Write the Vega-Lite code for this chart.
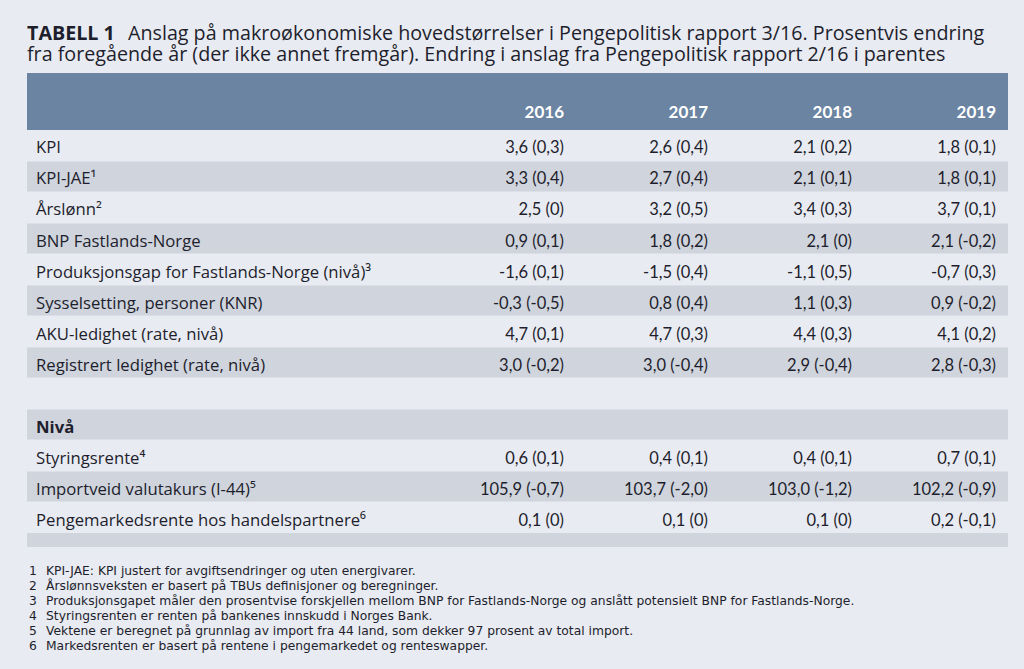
{
  "$schema": "https://vega.github.io/schema/vega-lite/v6.json",
  "width": 1024,
  "height": 669,
  "autosize": {"type": "fit", "contains": "padding"},
  "padding": 0,
  "background": "#E8EBF2",
  "config": {"view": {"stroke": null}, "text": {"font": "Lato", "color": "#1E1E2C"}},
  "datasets": {
    "rows": [
      {"row": 1, "label": "KPI"},
      {"row": 2, "label": "KPI-JAE¹"},
      {"row": 3, "label": "Årslønn²"},
      {"row": 4, "label": "BNP Fastlands-Norge"},
      {"row": 5, "label": "Produksjonsgap for Fastlands-Norge (nivå)³"},
      {"row": 6, "label": "Sysselsetting, personer (KNR)"},
      {"row": 7, "label": "AKU-ledighet (rate, nivå)"},
      {"row": 8, "label": "Registrert ledighet (rate, nivå)"},
      {"row": 10, "label": "Nivå"},
      {"row": 11, "label": "Styringsrente⁴"},
      {"row": 12, "label": "Importveid valutakurs (I-44)⁵"},
      {"row": 13, "label": "Pengemarkedsrente hos handelspartnere⁶"}
    ],
    "cells": [
      {"row": 1, "year": 2016, "value": "3,6 (0,3)"},
      {"row": 1, "year": 2017, "value": "2,6 (0,4)"},
      {"row": 1, "year": 2018, "value": "2,1 (0,2)"},
      {"row": 1, "year": 2019, "value": "1,8 (0,1)"},
      {"row": 2, "year": 2016, "value": "3,3 (0,4)"},
      {"row": 2, "year": 2017, "value": "2,7 (0,4)"},
      {"row": 2, "year": 2018, "value": "2,1 (0,1)"},
      {"row": 2, "year": 2019, "value": "1,8 (0,1)"},
      {"row": 3, "year": 2016, "value": "2,5 (0)"},
      {"row": 3, "year": 2017, "value": "3,2 (0,5)"},
      {"row": 3, "year": 2018, "value": "3,4 (0,3)"},
      {"row": 3, "year": 2019, "value": "3,7 (0,1)"},
      {"row": 4, "year": 2016, "value": "0,9 (0,1)"},
      {"row": 4, "year": 2017, "value": "1,8 (0,2)"},
      {"row": 4, "year": 2018, "value": "2,1 (0)"},
      {"row": 4, "year": 2019, "value": "2,1 (-0,2)"},
      {"row": 5, "year": 2016, "value": "-1,6 (0,1)"},
      {"row": 5, "year": 2017, "value": "-1,5 (0,4)"},
      {"row": 5, "year": 2018, "value": "-1,1 (0,5)"},
      {"row": 5, "year": 2019, "value": "-0,7 (0,3)"},
      {"row": 6, "year": 2016, "value": "-0,3 (-0,5)"},
      {"row": 6, "year": 2017, "value": "0,8 (0,4)"},
      {"row": 6, "year": 2018, "value": "1,1 (0,3)"},
      {"row": 6, "year": 2019, "value": "0,9 (-0,2)"},
      {"row": 7, "year": 2016, "value": "4,7 (0,1)"},
      {"row": 7, "year": 2017, "value": "4,7 (0,3)"},
      {"row": 7, "year": 2018, "value": "4,4 (0,3)"},
      {"row": 7, "year": 2019, "value": "4,1 (0,2)"},
      {"row": 8, "year": 2016, "value": "3,0 (-0,2)"},
      {"row": 8, "year": 2017, "value": "3,0 (-0,4)"},
      {"row": 8, "year": 2018, "value": "2,9 (-0,4)"},
      {"row": 8, "year": 2019, "value": "2,8 (-0,3)"},
      {"row": 11, "year": 2016, "value": "0,6 (0,1)"},
      {"row": 11, "year": 2017, "value": "0,4 (0,1)"},
      {"row": 11, "year": 2018, "value": "0,4 (0,1)"},
      {"row": 11, "year": 2019, "value": "0,7 (0,1)"},
      {"row": 12, "year": 2016, "value": "105,9 (-0,7)"},
      {"row": 12, "year": 2017, "value": "103,7 (-2,0)"},
      {"row": 12, "year": 2018, "value": "103,0 (-1,2)"},
      {"row": 12, "year": 2019, "value": "102,2 (-0,9)"},
      {"row": 13, "year": 2016, "value": "0,1 (0)"},
      {"row": 13, "year": 2017, "value": "0,1 (0)"},
      {"row": 13, "year": 2018, "value": "0,1 (0)"},
      {"row": 13, "year": 2019, "value": "0,2 (-0,1)"}
    ],
    "years": [{"year": 2016}, {"year": 2017}, {"year": 2018}, {"year": 2019}],
    "notes": [
      {"n": 1, "text": "KPI-JAE: KPI justert for avgiftsendringer og uten energivarer."},
      {"n": 2, "text": "Årslønnsveksten er basert på TBUs definisjoner og beregninger."},
      {"n": 3, "text": "Produksjonsgapet måler den prosentvise forskjellen mellom BNP for Fastlands-Norge og anslått potensielt BNP for Fastlands-Norge."},
      {"n": 4, "text": "Styringsrenten er renten på bankenes innskudd i Norges Bank."},
      {"n": 5, "text": "Vektene er beregnet på grunnlag av import fra 44 land, som dekker 97 prosent av total import."},
      {"n": 6, "text": "Markedsrenten er basert på rentene i pengemarkedet og renteswapper."}
    ]
  },
  "resolve": {"scale": {"x": "independent", "y": "independent"}},
  "layer": [
    {
      "data": {"values": [{"part": "header"}]},
      "mark": {"type": "rect", "color": "#6A84A2"},
      "encoding": {
        "x": {"datum": 2012.2708, "type": "quantitative", "scale": {"domain": [2012.0833, 2019.1944], "nice": false, "zero": false}, "axis": null},
        "x2": {"datum": 2019.0833},
        "y": {"datum": -1.339, "type": "quantitative", "scale": {"domain": [-3.6935, 17.887], "reverse": true, "nice": false, "zero": false}, "axis": null},
        "y2": {"datum": 0.5}
      }
    },
    {
      "data": {"name": "rows"},
      "transform": [{"filter": "datum.row % 2 == 0"}],
      "mark": {"type": "rule", "color": "#CFD4DD", "strokeWidth": 30},
      "encoding": {
        "x": {"datum": 2012.2708, "type": "quantitative", "scale": {"domain": [2012.0833, 2019.1944], "nice": false, "zero": false}, "axis": null},
        "x2": {"datum": 2019.0833},
        "y": {"field": "row", "type": "quantitative", "scale": {"domain": [-3.6935, 17.887], "reverse": true, "nice": false, "zero": false}, "axis": null}
      }
    },
    {
      "data": {"values": [{"part": "end"}]},
      "mark": {"type": "rect", "color": "#CFD4DD"},
      "encoding": {
        "x": {"datum": 2012.2708, "type": "quantitative", "scale": {"domain": [2012.0833, 2019.1944], "nice": false, "zero": false}, "axis": null},
        "x2": {"datum": 2019.0833},
        "y": {"datum": 13.5, "type": "quantitative", "scale": {"domain": [-3.6935, 17.887], "reverse": true, "nice": false, "zero": false}, "axis": null},
        "y2": {"datum": 13.95}
      }
    },
    {
      "data": {"name": "years"},
      "mark": {"type": "text", "align": "right", "baseline": "alphabetic", "fontSize": 17, "fontWeight": "bold", "color": "#FFFFFF"},
      "encoding": {
        "x": {"field": "year", "type": "quantitative", "scale": {"domain": [2012.0833, 2019.1944], "nice": false, "zero": false}, "axis": null},
        "y": {"datum": 0.113, "type": "quantitative", "scale": {"domain": [-3.6935, 17.887], "reverse": true, "nice": false, "zero": false}, "axis": null},
        "text": {"field": "year", "type": "nominal"}
      }
    },
    {
      "data": {"name": "rows"},
      "transform": [{"filter": "datum.row != 10"}],
      "mark": {"type": "text", "align": "left", "baseline": "alphabetic", "fontSize": 16.7, "dy": 8, "font": "Open Sans"},
      "encoding": {
        "x": {"datum": 2012.3333, "type": "quantitative", "scale": {"domain": [2012.0833, 2019.1944], "nice": false, "zero": false}, "axis": null},
        "y": {"field": "row", "type": "quantitative", "scale": {"domain": [-3.6935, 17.887], "reverse": true, "nice": false, "zero": false}, "axis": null},
        "text": {"field": "label", "type": "nominal"}
      }
    },
    {
      "data": {"name": "rows"},
      "transform": [{"filter": "datum.row == 10"}],
      "mark": {"type": "text", "align": "left", "baseline": "alphabetic", "fontSize": 16.7, "dy": 8, "font": "Open Sans", "fontWeight": "bold"},
      "encoding": {
        "x": {"datum": 2012.3333, "type": "quantitative", "scale": {"domain": [2012.0833, 2019.1944], "nice": false, "zero": false}, "axis": null},
        "y": {"field": "row", "type": "quantitative", "scale": {"domain": [-3.6935, 17.887], "reverse": true, "nice": false, "zero": false}, "axis": null},
        "text": {"field": "label", "type": "nominal"}
      }
    },
    {
      "data": {"name": "cells"},
      "mark": {"type": "text", "align": "right", "baseline": "alphabetic", "fontSize": 16.5, "dy": 8},
      "encoding": {
        "x": {"field": "year", "type": "quantitative", "scale": {"domain": [2012.0833, 2019.1944], "nice": false, "zero": false}, "axis": null},
        "y": {"field": "row", "type": "quantitative", "scale": {"domain": [-3.6935, 17.887], "reverse": true, "nice": false, "zero": false}, "axis": null},
        "text": {"field": "value", "type": "nominal"}
      }
    },
    {
      "data": {"values": [{"text": "TABELL 1"}]},
      "mark": {"type": "text", "align": "left", "baseline": "alphabetic", "fontSize": 19.7, "fontWeight": "bold", "font": "Open Sans"},
      "encoding": {
        "x": {"datum": 2012.2708, "type": "quantitative", "scale": {"domain": [2012.0833, 2019.1944], "nice": false, "zero": false}, "axis": null},
        "y": {"datum": -2.403, "type": "quantitative", "scale": {"domain": [-3.6935, 17.887], "reverse": true, "nice": false, "zero": false}, "axis": null},
        "text": {"field": "text", "type": "nominal"}
      }
    },
    {
      "data": {"values": [{"text": "Anslag på makroøkonomiske hovedstørrelser i Pengepolitisk rapport 3/16. Prosentvis endring"}]},
      "mark": {"type": "text", "align": "left", "baseline": "alphabetic", "fontSize": 19.7, "font": "Open Sans"},
      "encoding": {
        "x": {"datum": 2012.9722, "type": "quantitative", "scale": {"domain": [2012.0833, 2019.1944], "nice": false, "zero": false}, "axis": null},
        "y": {"datum": -2.403, "type": "quantitative", "scale": {"domain": [-3.6935, 17.887], "reverse": true, "nice": false, "zero": false}, "axis": null},
        "text": {"field": "text", "type": "nominal"}
      }
    },
    {
      "data": {"values": [{"text": "fra foregående år (der ikke annet fremgår). Endring i anslag fra Pengepolitisk rapport 2/16 i parentes"}]},
      "mark": {"type": "text", "align": "left", "baseline": "alphabetic", "fontSize": 19.7, "font": "Open Sans"},
      "encoding": {
        "x": {"datum": 2012.2708, "type": "quantitative", "scale": {"domain": [2012.0833, 2019.1944], "nice": false, "zero": false}, "axis": null},
        "y": {"datum": -1.726, "type": "quantitative", "scale": {"domain": [-3.6935, 17.887], "reverse": true, "nice": false, "zero": false}, "axis": null},
        "text": {"field": "text", "type": "nominal"}
      }
    },
    {
      "data": {"name": "notes"},
      "mark": {"type": "text", "align": "left", "baseline": "alphabetic", "fontSize": 12.3, "font": "DejaVu Sans"},
      "encoding": {
        "x": {"datum": 2012.2847, "type": "quantitative", "scale": {"domain": [2012.0833, 2019.1944], "nice": false, "zero": false}, "axis": null},
        "y": {"field": "n", "type": "quantitative", "scale": {"domain": [-37.333, 7.2667], "reverse": true, "nice": false, "zero": false}, "axis": null},
        "text": {"field": "n", "type": "nominal"}
      }
    },
    {
      "data": {"name": "notes"},
      "mark": {"type": "text", "align": "left", "baseline": "alphabetic", "fontSize": 12.3, "font": "DejaVu Sans"},
      "encoding": {
        "x": {"datum": 2012.4028, "type": "quantitative", "scale": {"domain": [2012.0833, 2019.1944], "nice": false, "zero": false}, "axis": null},
        "y": {"field": "n", "type": "quantitative", "scale": {"domain": [-37.333, 7.2667], "reverse": true, "nice": false, "zero": false}, "axis": null},
        "text": {"field": "text", "type": "nominal"}
      }
    }
  ]
}
